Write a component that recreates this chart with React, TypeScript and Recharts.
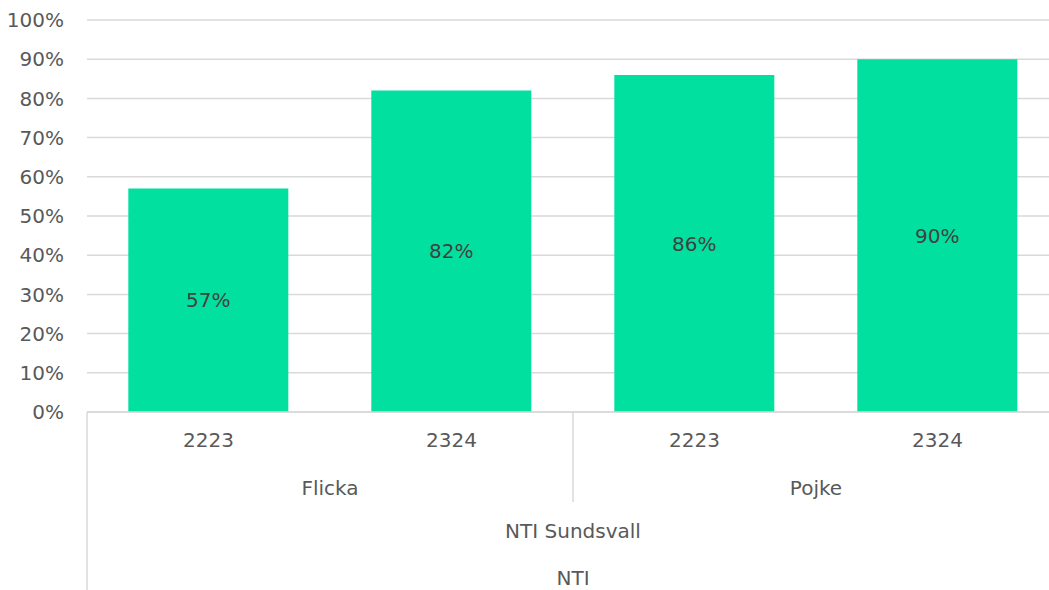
import { BarChart, Bar, XAxis, YAxis, CartesianGrid, LabelList } from 'recharts'

const years = ['2223', '2324', '2223', '2324']
const genders = ['Flicka', 'Flicka', 'Pojke', 'Pojke']
const schools = ['NTI Sundsvall', 'NTI Sundsvall', 'NTI Sundsvall', 'NTI Sundsvall']
const orgs = ['NTI', 'NTI', 'NTI', 'NTI']
const shares = [57, 82, 86, 90]
const yTicks = [0, 10, 20, 30, 40, 50, 60, 70, 80, 90, 100]

const data = years.map((year, i) => ({
  key: `${genders[i]}-${year}`,
  year,
  gender: genders[i],
  school: schools[i],
  org: orgs[i],
  value: shares[i],
}))

const FONT = '"DejaVu Sans", sans-serif'
const TEXT = '#595959'
const LINE = '#D9D9D9'
const SIZE = 20

// one tick draws the whole stacked category header for its slot
function MultiTick(props: any) {
  const { x, y, payload, index } = props
  const half = payload?.offset ?? 121.5
  const d = data[index]
  const prev = data[index - 1]
  const next = data[index + 1]
  const out: any[] = []
  const txt = (key: string, cx: number, cy: number, s: string) => (
    <text key={key} x={cx} y={cy} textAnchor="middle" dominantBaseline="central" fill={TEXT} fontSize={SIZE} fontFamily={FONT}>
      {s}
    </text>
  )
  out.push(txt('y', x, y + 28, d.year))
  // gender group starts here
  if (!prev || prev.gender !== d.gender) {
    let n = 1
    while (data[index + n] && data[index + n].gender === d.gender) n++
    out.push(txt('g', x - half + n * half, y + 76, d.gender))
    if (index > 0) out.push(<line key="gl" x1={x - half} x2={x - half} y1={y} y2={y + 90} stroke={LINE} strokeWidth={1.5} />)
  }
  if (index === 0) {
    const n = data.length
    out.push(txt('s', x - half + n * half, y + 119, d.school))
    out.push(txt('o', x - half + n * half, y + 166, d.org))
    out.push(<line key="l0" x1={x - half} x2={x - half} y1={y} y2={y + 178} stroke={LINE} strokeWidth={1.5} />)
  }
  if (!next) {
    out.push(<line key="l1" x1={x + half} x2={x + half} y1={y} y2={y + 178} stroke={LINE} strokeWidth={1.5} />)
  }
  return <g>{out}</g>
}

export default function App() {
  return (
    <div style={{ position: 'absolute', left: 0, top: 0, width: 1049, height: 590, overflow: 'hidden', background: '#fff' }}>
      <BarChart
        width={1059}
        height={590}
        data={data}
        margin={{ top: 20, right: 0, left: 0, bottom: 0 }}
        barCategoryGap="17%"
      >
        <CartesianGrid vertical={false} stroke={LINE} strokeWidth={1.5} />
        <XAxis
          dataKey="key"
          height={178}
          axisLine={{ stroke: LINE, strokeWidth: 1.5 }}
          tickLine={false}
          tickSize={0}
          tickMargin={0}
          interval={0}
          tick={<MultiTick />}
        />
        <YAxis
          width={87}
          domain={[0, 100]}
          ticks={yTicks}
          interval={0}
          axisLine={false}
          tickLine={false}
          tickSize={0}
          tickMargin={23}
          tickFormatter={(v: number) => `${v}%`}
          tick={{ fill: TEXT, fontSize: SIZE, fontFamily: FONT }}
        />
        <Bar dataKey="value" fill="#02E0A0" isAnimationActive={false}>
          <LabelList
            dataKey="value"
            position="center"
            formatter={(v: any) => `${v}%`}
            fill="#404040"
            fontSize={SIZE}
            fontFamily={FONT}
          />
        </Bar>
      </BarChart>
    </div>
  )
}
